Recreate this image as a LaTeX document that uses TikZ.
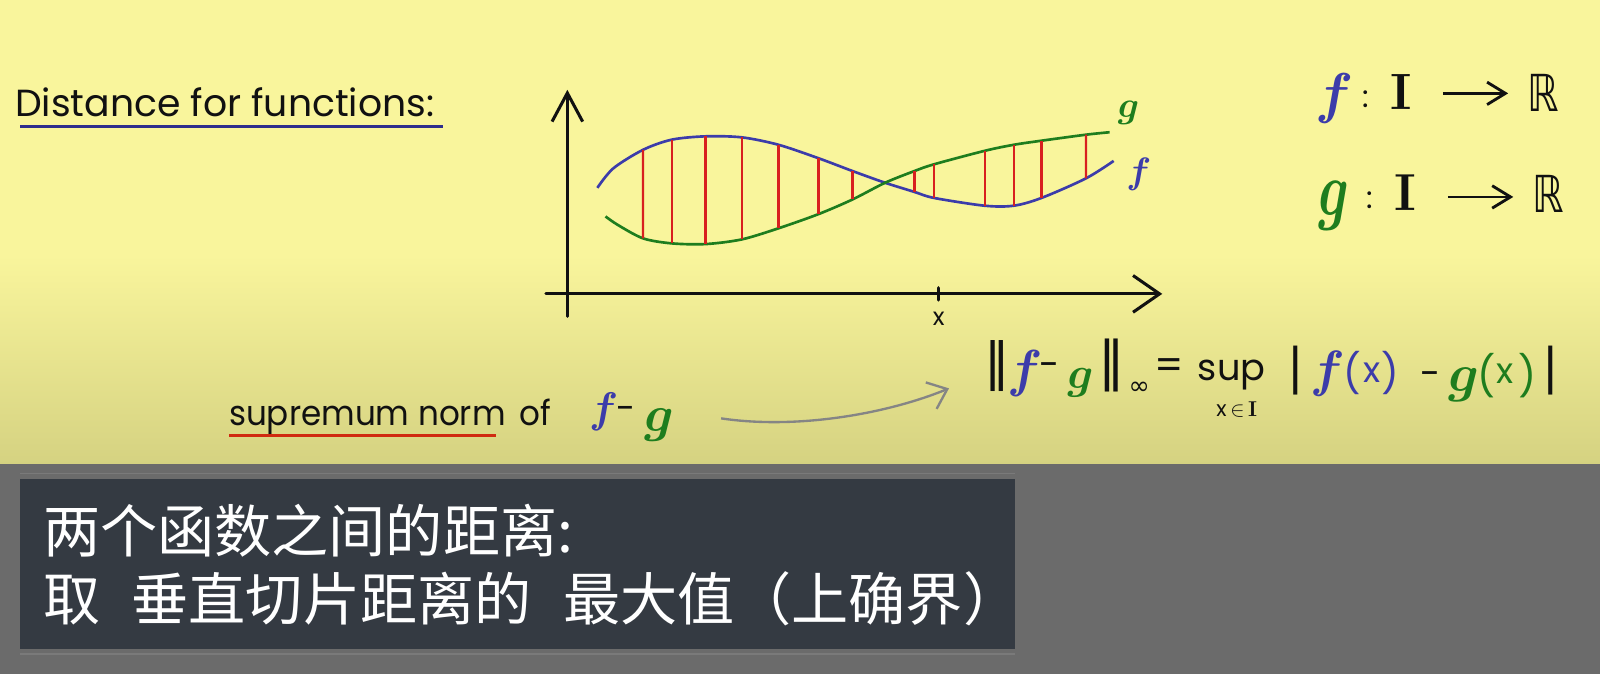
\RequirePackage{fix-cm}
\documentclass[tikz,border=0pt]{standalone}
\usepackage[no-math]{fontspec}
\setmainfont{Poppins}
\newfontfamily\cjk{Noto Sans CJK SC}
\newfontfamily\dvs{DejaVu Sans}
\usetikzlibrary{arrows.meta,intersections}
\definecolor{bgtop}{HTML}{F9F59C}
\definecolor{bgbot}{HTML}{D5D281}
\definecolor{fblue}{HTML}{3C3CAA}
\definecolor{ggreen}{HTML}{1E7D1E}
\definecolor{sred}{HTML}{D82020}
\definecolor{ulblue}{HTML}{2E2E8C}
\definecolor{ulred}{HTML}{D02A10}
\definecolor{panel}{HTML}{6B6B6B}
\definecolor{panelline}{HTML}{7A7A7A}
\definecolor{subbox}{HTML}{343A42}
\definecolor{arrgray}{HTML}{858585}
\definecolor{ink}{HTML}{111111}
\newcommand{\hfs}[1]{\fontsize{#1}{#1}\selectfont}
\begin{document}
\begin{tikzpicture}[x=1pt,y=-1pt,
  axisline/.style={line width=3pt, ink, line cap=round},
  fline/.style={line width=2.6pt, fblue},
  gline/.style={line width=2.6pt, ggreen},
  slice/.style={line width=2.2pt, sred},
  glyph/.style={inner sep=0pt, outer sep=0pt, text=ink},
  maparrow/.style={line width=2.8pt, ink, -{Straight Barb[length=18pt,width=22pt]}},
]
\useasboundingbox (0,0) rectangle (1568,661);
% background
\fill[bgtop] (0,0) rectangle (1568,251);
\shade[top color=bgtop, bottom color=bgbot] (0,250) rectangle (1568,455);
\fill[panel] (0,455) rectangle (1568,661);
\draw[panelline, line width=1.5pt] (20,464) -- (995,464);
\draw[panelline, line width=1.5pt] (20,641) -- (995,641);
\fill[subbox] (20,469) rectangle (995,636);

% title
\node[glyph, anchor=base west, font=\hfs{37}] (title) at (15,114.4) {Distance for functions:};
\coordinate (ulAa) at (19.6,124);
\coordinate (ulAb) at (434.6,124);
\draw[ulblue, line width=2.6pt] (ulAa) -- (ulAb);

% axes
\coordinate (yb) at (556,310);
\coordinate (yt) at (556,88);
\coordinate (xl) at (535,288);
\coordinate (xr) at (1139,288);
\draw[axisline, -{Straight Barb[length=28pt,width=30pt]}] (yb) -- (yt);
\draw[axisline, -{Straight Barb[length=26pt,width=36pt]}] (xl) -- (xr);
\coordinate (tka) at (919.4,282);
\coordinate (tkb) at (919.4,294);
\draw[axisline] (tka) -- (tkb);
\node[glyph, font=\hfs{24}] (xlab) at (920,312.5) {x};

% curves
\draw[fline, name path=fpath] plot[smooth] coordinates {
 (585.4,184.1) (601,165) (630.2,146.8) (658.2,136.9) (691.4,133.6)
 (727,134.6) (763,141.9) (802.2,155.1) (835.4,167.6) (867.4,179.1)
 (896.2,188.1) (915.4,194) (965,201.6) (993.4,201.6) (1020.6,194)
 (1064.2,174.8) (1091.4,157.7)};
\draw[gline, name path=gpath] plot[smooth] coordinates {
 (593.4,212.1) (605.4,220.4) (630.2,233.6) (658.2,238.5) (691.4,239.2)
 (727,234.6) (763,223.7) (802.2,209.8) (835.4,195.5) (867.4,179.1)
 (896.2,167.6) (915.4,161) (965,147.8) (993.4,141.9) (1020.6,137.9)
 (1064.2,132) (1087.4,129.6)};
\foreach \xx in {630.2,658.2,691.4,727,763,802.2,835.4,896.2,915.4,965,993.4,1020.6,1064.2}{
  \path[name path=vl] (\xx,100) -- (\xx,260);
  \path[name intersections={of=vl and fpath, by={pf}}];
  \path[name intersections={of=vl and gpath, by={pg}}];
  \draw[slice] (pf) -- (pg);
}
\node[glyph, text=ggreen, font=\hfs{36}\boldmath] (glab) at (1106,111) {$g$};
\node[glyph, text=fblue, font=\hfs{36}\boldmath] (flab) at (1116,171) {$f$};

% maps
\node[glyph, text=fblue, font=\hfs{55}\boldmath] (mf) at (1308,96.5) {$f$};
\node[glyph, font=\hfs{30}] (mc1) at (1338,97) {:};
\node[glyph, font=\hfs{50}] (mI1) at (1373.5,90.5) {$\mathbf{I}$};
\node[glyph, font=\hfs{50}] (mR1) at (1512.5,91.5) {\scalebox{0.78}[1]{\dvs ℝ}};
\coordinate (ma1) at (1414,91.5);
\coordinate (mb1) at (1478,91.5);
\draw[maparrow] (ma1) -- (mb1);

\node[glyph, text=ggreen, font=\hfs{52}\boldmath] (mg) at (1307.5,201.5) {\scalebox{1}[1.45]{$g$}};
\node[glyph, font=\hfs{30}] (mc2) at (1342,196) {:};
\node[glyph, font=\hfs{51}] (mI2) at (1377.5,189) {$\mathbf{I}$};
\node[glyph, font=\hfs{50}] (mR2) at (1517.5,190) {\scalebox{0.78}[1]{\dvs ℝ}};
\coordinate (ma2) at (1419,193);
\coordinate (mb2) at (1483,193);
\draw[maparrow] (ma2) -- (mb2);

% formula
\node[glyph, font=\dvs\hfs{50}] (nL1) at (977,359) {‖};
\node[glyph, text=fblue, font=\hfs{51}\boldmath] (nf1) at (1005,366) {$f$};
\node[glyph, font=\hfs{36}] (nm1) at (1028.5,362.6) {-};
\node[glyph, text=ggreen, font=\hfs{44}\boldmath] (ng1) at (1058.8,375.7) {$g$};
\node[glyph, font=\dvs\hfs{52}] (nL2) at (1089.4,358.5) {‖};
\node[glyph, font=\dvs\hfs{25}] (ninf) at (1116.5,381) {∞};
\node[glyph, font=\hfs{40}] (neq) at (1145.6,362) {=};
\node[glyph, anchor=base, font=\hfs{36}] (nsup) at (1207,373) {sup};
\node[glyph, font=\hfs{21}] (nsub) at (1212,401) {x\,$\in$\,$\mathbf{I}$};
\node[glyph, font=\dvs\hfs{48}] (nab1) at (1269.6,363) {|};
\node[glyph, text=fblue, font=\hfs{50}\boldmath] (nf2) at (1301,366) {$f$};
\node[glyph, text=fblue, font=\hfs{38}] (npa1) at (1325,366) {(};
\node[glyph, text=fblue, font=\hfs{35}] (nx1) at (1344.6,365) {x};
\node[glyph, text=fblue, font=\hfs{38}] (npb1) at (1362.5,366) {)};
\node[glyph, font=\hfs{36}] (nm2) at (1402.4,371) {-};
\node[glyph, text=ggreen, font=\hfs{52}\boldmath] (ng2) at (1434.8,377) {$g$};
\node[glyph, text=ggreen, font=\hfs{39}] (npa2) at (1457,368) {(};
\node[glyph, text=ggreen, font=\hfs{35}] (nx2) at (1475.4,366) {x};
\node[glyph, text=ggreen, font=\hfs{39}] (npb2) at (1496.8,368) {)};
\node[glyph, font=\dvs\hfs{48}] (nab2) at (1520,363) {|};

% supremum norm
\node[glyph, anchor=base west, font=\hfs{34}] (snorm) at (224.5,416.5) {\scalebox{0.94}[1]{supremum norm}};
\node[glyph, anchor=base west, font=\hfs{34}] (sof) at (509.5,416.5) {\scalebox{0.94}[1]{of}};
\coordinate (ulBa) at (224.5,427);
\coordinate (ulBb) at (485.8,427);
\draw[ulred, line width=3pt] (ulBa) -- (ulBb);
\node[glyph, text=fblue, font=\hfs{42}\boldmath] (sf) at (591.5,404) {$f$};
\node[glyph, font=\hfs{34}] (sm) at (614,405) {-};
\node[glyph, text=ggreen, font=\hfs{50}\boldmath] (sg) at (646,417) {$g$};
\coordinate (arS) at (706.7,410);
\coordinate (arE) at (930,380.6);
\draw[arrgray, line width=2.3pt, -{Straight Barb[length=17pt,width=28pt]}]
  (arS) .. controls (780,421) and (868,406) .. (arE);

% subtitle
\node[inner sep=0pt, anchor=west, text=white, font=\cjk\hfs{56}] (zh1) at (42,520) {两个函数之间的距离:};
\node[inner sep=0pt, anchor=west, text=white, font=\cjk\hfs{56}] (zh2) at (42,587) {取\hspace{0.55em}垂直切片距离的\hspace{0.55em}最大值（上确界）};
\end{tikzpicture}
\end{document}
